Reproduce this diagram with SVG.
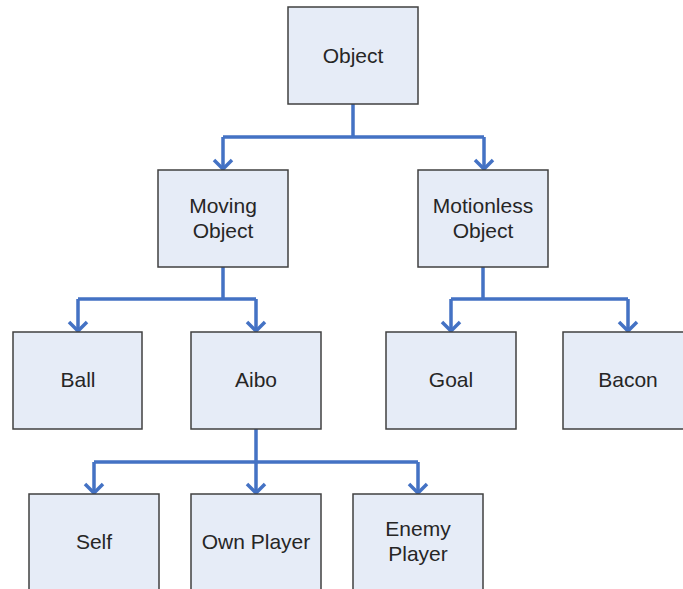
<svg xmlns="http://www.w3.org/2000/svg" width="683" height="589" viewBox="0 0 683 589">
<style>
.box{fill:#E6ECF7;stroke:#404040;stroke-width:1.5}
.lbl{font-family:"Liberation Sans",Arial,sans-serif;font-size:21px;fill:#262626;text-anchor:middle}
.c{fill:none;stroke:#4472C4;stroke-width:3.5}
.ah{fill:none;stroke:#4472C4;stroke-width:3.5}
</style>
<rect width="683" height="589" fill="#FFFFFF"/>
<g id="connectors">
<path class="c" d="M353,104 V137 M223,137 H484 M223,137 V169 M484,137 V169"/>
<path class="c" d="M223,267 V299 M78,299 H256 M78,299 V331 M256,299 V331"/>
<path class="c" d="M483,267 V299 M451,299 H628 M451,299 V331 M628,299 V331"/>
<path class="c" d="M256,429 V462 M94,462 H418 M94,462 V493 M256,462 V493 M418,462 V493"/>
<path class="ah" d="M214,160 L223,169 L232,160 M475,160 L484,169 L493,160 M69,322 L78,331 L87,322 M247,322 L256,331 L265,322 M442,322 L451,331 L460,322 M619,322 L628,331 L637,322 M85,484 L94,493 L103,484 M247,484 L256,493 L265,484 M409,484 L418,493 L427,484"/>
</g>
<g id="object"><rect class="box" x="288" y="7" width="130" height="97"/><text class="lbl" x="353" y="63">Object</text></g>
<g id="moving-object"><rect class="box" x="158" y="170" width="130" height="97"/><text class="lbl" x="223" y="213">Moving</text><text class="lbl" x="223" y="238">Object</text></g>
<g id="motionless-object"><rect class="box" x="418" y="170" width="130" height="97"/><text class="lbl" x="483" y="213">Motionless</text><text class="lbl" x="483" y="238">Object</text></g>
<g id="ball"><rect class="box" x="13" y="332" width="129" height="97"/><text class="lbl" x="78" y="387">Ball</text></g>
<g id="aibo"><rect class="box" x="191" y="332" width="130" height="97"/><text class="lbl" x="256" y="387">Aibo</text></g>
<g id="goal"><rect class="box" x="386" y="332" width="130" height="97"/><text class="lbl" x="451" y="387">Goal</text></g>
<g id="bacon"><rect class="box" x="563" y="332" width="130" height="97"/><text class="lbl" x="628" y="387">Bacon</text></g>
<g id="self"><rect class="box" x="29" y="494" width="130" height="100"/><text class="lbl" x="94" y="549">Self</text></g>
<g id="own-player"><rect class="box" x="191" y="494" width="130" height="100"/><text class="lbl" x="256" y="549">Own Player</text></g>
<g id="enemy-player"><rect class="box" x="353" y="494" width="130" height="100"/><text class="lbl" x="418" y="536">Enemy</text><text class="lbl" x="418" y="561">Player</text></g>
</svg>
